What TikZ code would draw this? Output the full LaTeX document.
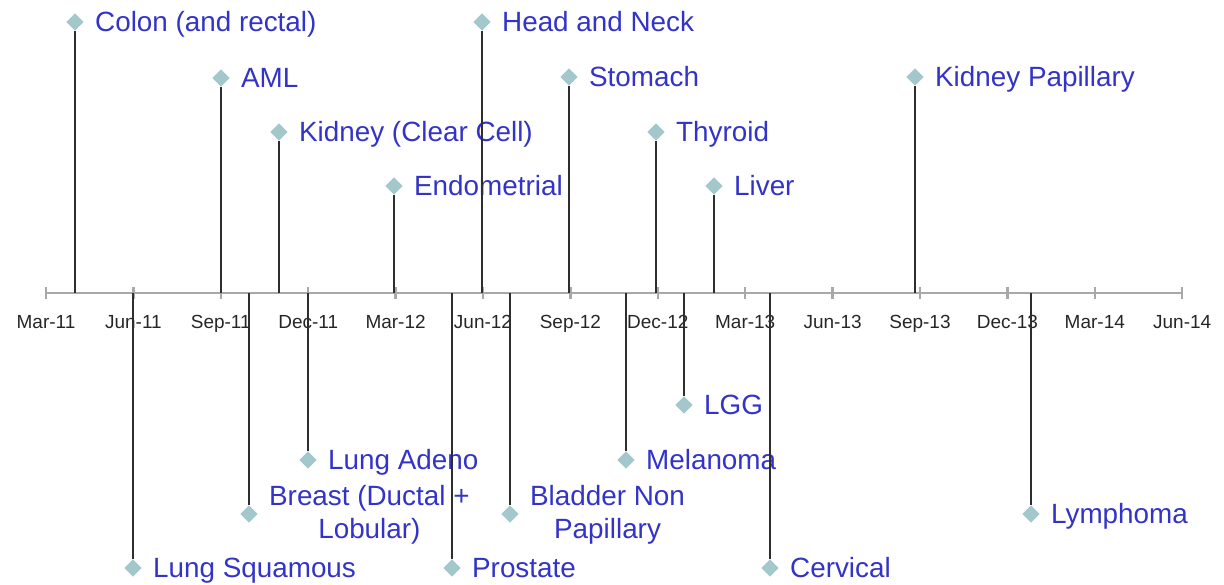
\documentclass[tikz,border=0pt]{standalone}
\usepackage{fontspec}
\setmainfont{Liberation Sans}
\usepackage{tikz}
\usetikzlibrary{positioning,shapes.geometric}
\definecolor{event}{HTML}{3333C8}
\definecolor{marker}{HTML}{A3C8CC}
\definecolor{axisgray}{HTML}{A8A8A8}
\definecolor{stemgray}{HTML}{2E2E2E}

\tikzset{
  dot/.style={diamond,fill=marker,inner sep=0pt,minimum size=0.44cm},
  cancer/.style={font=\fontsize{19.8}{23.2}\selectfont,text=event,inner sep=0pt,
    text height=14.2pt,text depth=0pt,align=center},
  twoline/.style={yshift=-0.36cm},
  month/.style={font=\fontsize{13.5}{15}\selectfont,text=black!85,inner sep=0pt,
    text height=9.7pt,text depth=0pt},
  stemline/.style={stemgray,line width=1.2pt},
  axisline/.style={axisgray,line width=1.6pt},
}

\begin{document}
\begin{tikzpicture}[x=0.025cm,y=-0.025cm]
  \useasboundingbox (0,0) rectangle (1224,585);

  % Time axis
  \coordinate (ax-start) at (46,293);
  \coordinate (ax-end) at (1182,293);
  \draw[axisline] (ax-start) -- (ax-end);
  \foreach \m [count=\i from 0] in {Mar-11,Jun-11,Sep-11,Dec-11,Mar-12,Jun-12,Sep-12,
      Dec-12,Mar-13,Jun-13,Sep-13,Dec-13,Mar-14,Jun-14} {
    \draw[axisline] (46+87.4*\i,287) -- ++(0,12);
    \node[month] (m\i) at (46+87.4*\i,322) {\m};
  }

  % Markers above the axis
  \node[dot] (colon) at (75,22) {};
  \node[cancer,right=0.27cm of colon] (colon-t) {Colon (and rectal)};
  \node[dot] (aml) at (221,78) {};
  \node[cancer,right=0.27cm of aml] (aml-t) {AML};
  \node[dot] (kidcc) at (279,132) {};
  \node[cancer,right=0.27cm of kidcc] (kidcc-t) {Kidney (Clear Cell)};
  \node[dot] (endo) at (394,186) {};
  \node[cancer,right=0.27cm of endo] (endo-t) {Endometrial};
  \node[dot] (headneck) at (482,22) {};
  \node[cancer,right=0.27cm of headneck] (headneck-t) {Head and Neck};
  \node[dot] (stomach) at (569,77) {};
  \node[cancer,right=0.27cm of stomach] (stomach-t) {Stomach};
  \node[dot] (thyroid) at (656,132) {};
  \node[cancer,right=0.27cm of thyroid] (thyroid-t) {Thyroid};
  \node[dot] (liver) at (714,186) {};
  \node[cancer,right=0.27cm of liver] (liver-t) {Liver};
  \node[dot] (kidpap) at (915,77) {};
  \node[cancer,right=0.27cm of kidpap] (kidpap-t) {Kidney Papillary};

  % Markers below the axis
  \node[dot] (lungsq) at (133,568) {};
  \node[cancer,right=0.27cm of lungsq] (lungsq-t) {Lung Squamous};
  \node[dot] (breast) at (249,514) {};
  \node[cancer,twoline,right=0.27cm of breast] (breast-t) {Breast (Ductal +\\Lobular)};
  \node[dot] (lungad) at (308,460) {};
  \node[cancer,right=0.27cm of lungad] (lungad-t) {Lung Adeno};
  \node[dot] (prostate) at (452,568) {};
  \node[cancer,right=0.27cm of prostate] (prostate-t) {Prostate};
  \node[dot] (bladder) at (510,514) {};
  \node[cancer,twoline,right=0.27cm of bladder] (bladder-t) {Bladder Non\\Papillary};
  \node[dot] (melanoma) at (626,460) {};
  \node[cancer,right=0.27cm of melanoma] (melanoma-t) {Melanoma};
  \node[dot] (lgg) at (684,405) {};
  \node[cancer,right=0.27cm of lgg] (lgg-t) {LGG};
  \node[dot] (cervical) at (770,568) {};
  \node[cancer,right=0.27cm of cervical] (cervical-t) {Cervical};
  \node[dot] (lymphoma) at (1031,514) {};
  \node[cancer,right=0.27cm of lymphoma] (lymphoma-t) {Lymphoma};

  % Stems
  \foreach \n/\x in {colon/75,aml/221,kidcc/279,endo/394,headneck/482,stomach/569,
      thyroid/656,liver/714,kidpap/915,lungsq/133,breast/249,lungad/308,prostate/452,
      bladder/510,melanoma/626,lgg/684,cervical/770,lymphoma/1031} {
    \coordinate (\n-ax) at (\x,293);
    \draw[stemline] (\n-ax) -- (\n);
  }
\end{tikzpicture}
\end{document}
